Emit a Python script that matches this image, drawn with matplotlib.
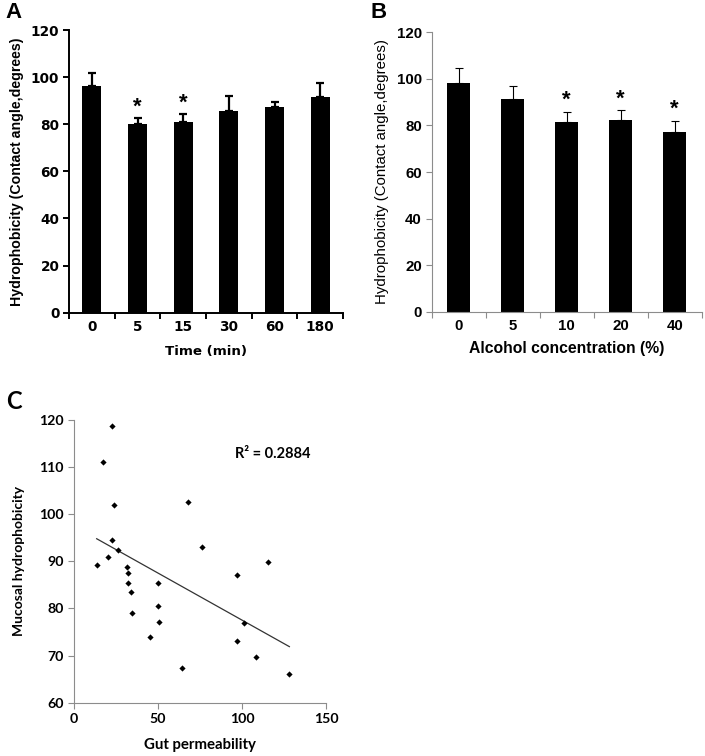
import matplotlib
matplotlib.use("Agg")
import matplotlib.pyplot as plt
import numpy as np

# Panel A: contact angle vs time
time_labels = ["0", "5", "15", "30", "60", "180"]
time_means = [96.2, 80.1, 80.9, 85.8, 87.2, 91.7]
time_errs = [5.4, 2.4, 3.4, 6.0, 2.4, 5.7]
time_sig = [False, True, True, False, False, False]

# Panel B: contact angle vs alcohol concentration
conc_labels = ["0", "5", "10", "20", "40"]
conc_means = [98.4, 91.4, 81.6, 82.3, 77.0]
conc_errs = [6.1, 5.4, 4.3, 4.2, 5.0]
conc_sig = [False, False, True, True, True]

# Panel C: gut permeability vs mucosal hydrophobicity
gut_perm = [22.4, 17.1, 24.0, 22.4, 26.0, 20.2, 13.5, 31.3, 32.1, 32.1, 33.9, 34.7,
            49.8, 49.8, 50.6, 45.4, 64.1, 67.9, 76.2, 96.8, 115.5, 101.2, 96.8, 108.3, 128.2]
muc_hydro = [118.8, 111.1, 102.0, 94.6, 92.5, 91.0, 89.2, 88.7, 87.5, 85.5, 83.5, 79.0,
             85.4, 80.5, 77.1, 73.9, 67.4, 102.5, 93.0, 87.1, 89.9, 76.9, 73.1, 69.6, 66.0]
r2_text = "R² = 0.2884"

plt.rcParams["font.family"] = ["Liberation Sans", "DejaVu Sans"]
WIDE = ["DejaVu Sans"]
CAL = ["Lato", "DejaVu Sans"]

W, H = 705, 756
fig = plt.figure(figsize=(W / 100, H / 100), dpi=100)


def px_axes(left, top, right, bottom):
    return fig.add_axes([left / W, 1 - bottom / H, (right - left) / W, (bottom - top) / H])


def bar_panel(ax, labels, means, errs, sig, spine_color, lw, err_lw, tick_family, tick_size):
    x = np.arange(len(labels))
    ax.bar(x, means, width=0.42, color="black", zorder=2)
    ax.errorbar(x, means, yerr=[np.zeros(len(errs)), errs], fmt="none",
                ecolor="black", elinewidth=err_lw, capsize=3, capthick=err_lw, zorder=3)
    for xi, m, e, s in zip(x, means, errs, sig):
        if s:
            ax.text(xi, m + e + 0.3, "*", ha="center", va="bottom",
                    fontsize=16, fontweight="bold")
    ax.set_xlim(-0.5, len(labels) - 0.5)
    ax.set_ylim(0, 120)
    ax.set_yticks(range(0, 121, 20))
    ax.set_xticks(np.arange(-0.5, len(labels), 1.0))
    ax.set_xticklabels([])
    ax.set_xticks(x, minor=True)
    ax.set_xticklabels(labels, minor=True)
    ax.tick_params(axis="x", which="minor", length=0, pad=5)
    ax.tick_params(axis="x", which="major", length=4, width=lw, color=spine_color)
    ax.tick_params(axis="y", length=4, width=lw, color=spine_color, pad=3)
    for t in ax.get_xticklabels(minor=True) + ax.get_yticklabels():
        t.set_fontweight("bold")
        t.set_fontsize(tick_size)
        t.set_family(tick_family)
    for side in ["top", "right"]:
        ax.spines[side].set_visible(False)
    for side in ["left", "bottom"]:
        ax.spines[side].set_color(spine_color)
        ax.spines[side].set_linewidth(lw)


axA = px_axes(69, 30, 343, 312.7)
bar_panel(axA, time_labels, time_means, time_errs, time_sig, "black", 1.4, 1.6, WIDE, 9.8)
axA.set_ylabel("Hydrophobicity (Contact angle,degrees)", fontsize=10.2,
               fontweight="bold", labelpad=5)
axA.set_xlabel("Time (min)", fontsize=9.6, fontweight="bold", family=WIDE)
axA.xaxis.set_label_coords(0.5, (312.7 - 352) / 282.7)
axA.xaxis.label.set_va("center")

axB = px_axes(431.7, 32.3, 701.7, 311.7)
bar_panel(axB, conc_labels, conc_means, conc_errs, conc_sig, "#8c8c8c", 0.8, 0.8,
          ["Liberation Sans"], 10.8)
axB.set_ylabel("Hydrophobicity (Contact angle,degrees)", fontsize=10.8,
               fontweight="normal", labelpad=6)
axB.set_xlabel("Alcohol concentration (%)", fontsize=11.3, fontweight="bold")
axB.xaxis.set_label_coords(0.5, (311.7 - 349) / 279.4)
axB.xaxis.label.set_va("center")

# Panel C
axC = px_axes(74, 420, 326, 702.7)
axC.scatter(gut_perm, muc_hydro, marker="D", s=10, color="black", zorder=3, linewidths=0)
gx = np.array(gut_perm)
gy = np.array(muc_hydro)
slope, intercept = np.polyfit(gx, gy, 1)
xl = np.array([gx.min(), gx.max()])
axC.plot(xl, slope * xl + intercept, color="#333333", lw=0.9)
axC.set_xlim(0, 150)
axC.set_ylim(60, 120)
axC.set_xticks([0, 50, 100, 150])
axC.set_yticks(range(60, 121, 10))
for side in ["top", "right"]:
    axC.spines[side].set_visible(False)
for side in ["left", "bottom"]:
    axC.spines[side].set_color("#8c8c8c")
    axC.spines[side].set_linewidth(0.8)
axC.tick_params(length=4, width=0.8, color="#8c8c8c")
for t in axC.get_xticklabels() + axC.get_yticklabels():
    t.set_fontweight("bold")
    t.set_fontsize(10.2)
    t.set_family(CAL)
axC.set_xlabel("Gut permeability", fontsize=10.8, fontweight="bold", family=CAL, labelpad=9)
axC.set_ylabel("Mucosal hydrophobicity", fontsize=10, fontweight="bold", family=CAL,
               labelpad=10)
axC.text(0.64, 0.88, r2_text, transform=axC.transAxes, fontsize=10.5,
         fontweight="bold", family=CAL, ha="left", va="center")

fig.text(5 / W, 1 - 13 / H, "A", fontsize=16, fontweight="bold", va="center")
fig.text(371 / W, 1 - 13 / H, "B", fontsize=16, fontweight="bold", va="center")
fig.text(6 / W, 1 - 401 / H, "C", fontsize=17, fontweight="bold", va="center", family=CAL)

fig.savefig("out.png", dpi=100)
